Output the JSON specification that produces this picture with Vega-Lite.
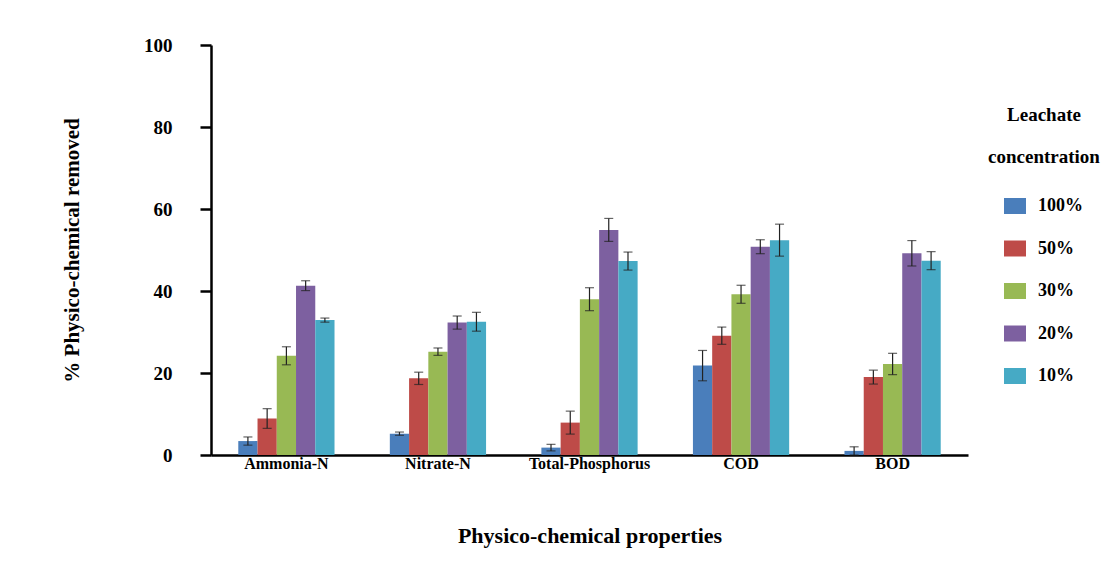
{
  "$schema": "https://vega.github.io/schema/vega-lite/v6.json",
  "width": 757,
  "height": 410,
  "autosize": "none",
  "padding": {"left": 211, "top": 45, "right": 147, "bottom": 120},
  "background": "white",
  "config": {
    "font": "Liberation Serif",
    "view": {"stroke": null},
    "axis": {"labelFont": "Liberation Serif", "titleFont": "Liberation Serif", "labelColor": "#000", "titleColor": "#000", "grid": false}
  },
  "data": {
    "values": [
      {"property": "Ammonia-N", "conc": "100%", "value": 3.4, "err": 1.0},
      {"property": "Ammonia-N", "conc": "50%", "value": 8.9, "err": 2.4},
      {"property": "Ammonia-N", "conc": "30%", "value": 24.2, "err": 2.2},
      {"property": "Ammonia-N", "conc": "20%", "value": 41.3, "err": 1.2},
      {"property": "Ammonia-N", "conc": "10%", "value": 32.9, "err": 0.5},
      {"property": "Nitrate-N", "conc": "100%", "value": 5.2, "err": 0.4},
      {"property": "Nitrate-N", "conc": "50%", "value": 18.7, "err": 1.5},
      {"property": "Nitrate-N", "conc": "30%", "value": 25.2, "err": 0.9},
      {"property": "Nitrate-N", "conc": "20%", "value": 32.3, "err": 1.6},
      {"property": "Nitrate-N", "conc": "10%", "value": 32.5, "err": 2.3},
      {"property": "Total-Phosphorus", "conc": "100%", "value": 1.8, "err": 0.8},
      {"property": "Total-Phosphorus", "conc": "50%", "value": 7.9, "err": 2.8},
      {"property": "Total-Phosphorus", "conc": "30%", "value": 38.0, "err": 2.8},
      {"property": "Total-Phosphorus", "conc": "20%", "value": 54.9, "err": 2.8},
      {"property": "Total-Phosphorus", "conc": "10%", "value": 47.3, "err": 2.2},
      {"property": "COD", "conc": "100%", "value": 21.8, "err": 3.7},
      {"property": "COD", "conc": "50%", "value": 29.1, "err": 2.1},
      {"property": "COD", "conc": "30%", "value": 39.2, "err": 2.2},
      {"property": "COD", "conc": "20%", "value": 50.8, "err": 1.7},
      {"property": "COD", "conc": "10%", "value": 52.4, "err": 3.9},
      {"property": "BOD", "conc": "100%", "value": 1.0, "err": 1.0},
      {"property": "BOD", "conc": "50%", "value": 19.0, "err": 1.7},
      {"property": "BOD", "conc": "30%", "value": 22.2, "err": 2.6},
      {"property": "BOD", "conc": "20%", "value": 49.2, "err": 3.1},
      {"property": "BOD", "conc": "10%", "value": 47.4, "err": 2.2}
    ]
  },
  "encoding": {
    "x": {
      "field": "property",
      "type": "nominal",
      "sort": ["Ammonia-N", "Nitrate-N", "Total-Phosphorus", "COD", "BOD"],
      "scale": {"paddingInner": 0.365, "paddingOuter": 0.18},
      "axis": {
        "title": "Physico-chemical properties",
        "titleFontSize": 22,
        "titleFontWeight": "bold",
        "titlePadding": 54,
        "labelAngle": 0,
        "labelFontSize": 16,
        "labelFontWeight": "bold",
        "labelPadding": 0,
        "ticks": false,
        "domainColor": "#000",
        "domainWidth": 2.5
      }
    },
    "xOffset": {
      "field": "conc",
      "type": "nominal",
      "sort": ["100%", "50%", "30%", "20%", "10%"],
      "scale": {"paddingInner": 0, "paddingOuter": 0}
    }
  },
  "layer": [
    {
      "mark": {"type": "bar"},
      "encoding": {
        "y": {
          "field": "value",
          "type": "quantitative",
          "scale": {"domain": [0, 100], "nice": false},
          "axis": {
            "title": "% Physico-chemical removed",
            "titleFontSize": 21,
            "titleFontWeight": "bold",
            "titlePadding": 61,
            "values": [0, 20, 40, 60, 80, 100],
            "labelFontSize": 19,
            "labelFontWeight": "bold",
            "labelPadding": 28,
            "tickSize": 11,
            "tickWidth": 2.5,
            "tickColor": "#000",
            "domainColor": "#000",
            "domainWidth": 2.5
          }
        },
        "color": {
          "field": "conc",
          "type": "nominal",
          "sort": ["100%", "50%", "30%", "20%", "10%"],
          "scale": {
            "domain": ["100%", "50%", "30%", "20%", "10%"],
            "range": ["#4a7ebb", "#be4b48", "#98b954", "#7d60a0", "#46aac5"]
          },
          "legend": {
            "title": ["Leachate", "concentration"],
            "orient": "none",
            "legendX": 777,
            "legendY": 61,
            "titleFont": "Liberation Serif",
            "titleFontSize": 19,
            "titleFontWeight": "bold",
            "titleColor": "#000",
            "titleLineHeight": 42,
            "titleAnchor": "middle",
            "titleAlign": "center",
            "titlePadding": 28,
            "labelFont": "Liberation Serif",
            "labelFontSize": 18,
            "labelFontWeight": "bold",
            "labelColor": "#000",
            "labelOffset": 12,
            "symbolType": "M-1,-0.727H1V0.727H-1Z",
            "symbolSize": 484,
            "symbolStrokeWidth": 0,
            "rowPadding": 22.5
          }
        }
      }
    },
    {
      "mark": {"type": "errorbar", "color": "#222", "thickness": 1.2, "ticks": {"size": 9, "color": "#222", "thickness": 1.2}},
      "encoding": {
        "y": {"field": "value", "type": "quantitative", "title": "% Physico-chemical removed"},
        "yError": {"field": "err"}
      }
    }
  ]
}
